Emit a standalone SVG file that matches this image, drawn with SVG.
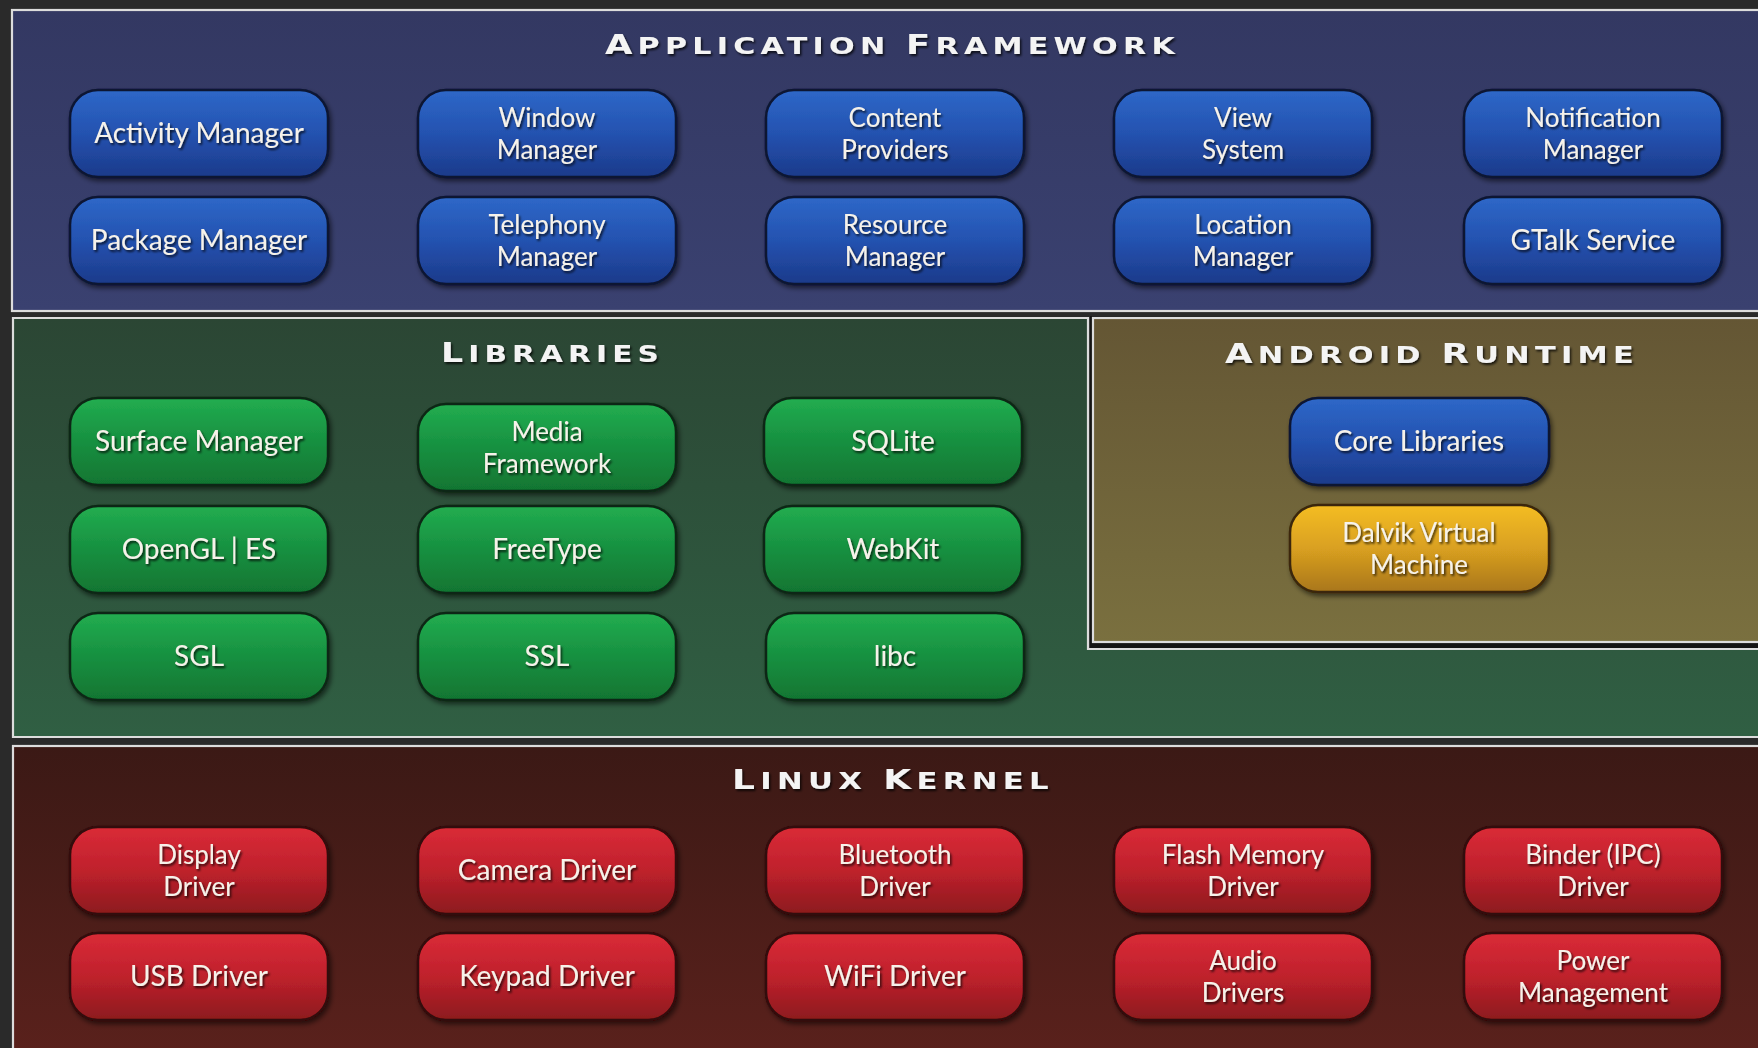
<svg xmlns="http://www.w3.org/2000/svg" width="1758" height="1048" viewBox="0 0 1758 1048">
<defs>
<linearGradient id="gApp" x1="0" y1="0" x2="0" y2="1"><stop offset="0" stop-color="#333862"/><stop offset="1" stop-color="#3a4170"/></linearGradient>
<linearGradient id="gLib" x1="0" y1="0" x2="0" y2="1"><stop offset="0" stop-color="#2b4634"/><stop offset="1" stop-color="#305f43"/></linearGradient>
<linearGradient id="gRun" x1="0" y1="0" x2="0" y2="1"><stop offset="0" stop-color="#645634"/><stop offset="1" stop-color="#7a703f"/></linearGradient>
<linearGradient id="gKer" x1="0" y1="0" x2="0" y2="1"><stop offset="0" stop-color="#3b1915"/><stop offset="1" stop-color="#5a211c"/></linearGradient>
<linearGradient id="bBlue" x1="0" y1="0" x2="0" y2="1"><stop offset="0" stop-color="#2e68c8"/><stop offset="0.5" stop-color="#2452b0"/><stop offset="1" stop-color="#1c3a8a"/></linearGradient>
<linearGradient id="bGreen" x1="0" y1="0" x2="0" y2="1"><stop offset="0" stop-color="#22ad50"/><stop offset="0.5" stop-color="#179040"/><stop offset="1" stop-color="#117532"/></linearGradient>
<linearGradient id="bRed" x1="0" y1="0" x2="0" y2="1"><stop offset="0" stop-color="#da2b37"/><stop offset="0.5" stop-color="#bf212c"/><stop offset="1" stop-color="#8c1a1e"/></linearGradient>
<linearGradient id="bGold" x1="0" y1="0" x2="0" y2="1"><stop offset="0" stop-color="#f4bd22"/><stop offset="0.5" stop-color="#d9a020"/><stop offset="1" stop-color="#a9761c"/></linearGradient>
<filter id="tsh" x="-10%" y="-20%" width="120%" height="150%"><feDropShadow dx="1.5" dy="2" stdDeviation="1.2" flood-color="#000" flood-opacity="0.75"/></filter>
<filter id="bsh" x="-5%" y="-10%" width="112%" height="130%"><feDropShadow dx="2" dy="3" stdDeviation="2.5" flood-color="#000" flood-opacity="0.55"/></filter>
</defs>
<style>
.panel{stroke:#dcdcdc;stroke-width:2.2}
.box{stroke-width:2.5;filter:url(#bsh)}
.blue{fill:url(#bBlue);stroke:#0b1533}
.green{fill:url(#bGreen);stroke:#0c2814}
.red{fill:url(#bRed);stroke:#330909}
.gold{fill:url(#bGold);stroke:#3a2808}
.lbl{font-family:Lato,"Open Sans","DejaVu Sans",sans-serif;font-size:28px;fill:#f6f2ea;text-anchor:middle;filter:url(#tsh)}
.two{font-size:26px}
.ttl{font-family:"DejaVu Sans","Liberation Sans",sans-serif;font-weight:bold;fill:#f4f4f4;letter-spacing:4px;filter:url(#tsh)}
.big{font-size:27px}
.sm{font-size:23px}
</style>
<rect x="0" y="0" width="1758" height="1048" fill="#2a2a2a"/>
<g id="panels">
<rect class="panel" x="12" y="10" width="1770" height="301" fill="url(#gApp)"/>
<path class="panel" d="M13,318 H1088 V649 H1780 V737 H13 Z" fill="url(#gLib)"/>
<rect x="1090" y="316" width="690" height="332" fill="#141414"/>
<rect class="panel" x="1093" y="318" width="690" height="324" fill="url(#gRun)"/>
<rect class="panel" x="13" y="746" width="1770" height="310" fill="url(#gKer)"/>
</g>
<g id="titles">
<text class="ttl" x="605" y="54" textLength="575" lengthAdjust="spacingAndGlyphs"><tspan class="big">A</tspan><tspan class="sm">PPLICATION </tspan><tspan class="big">F</tspan><tspan class="sm">RAMEWORK</tspan></text>
<text class="ttl" x="441" y="362" textLength="223" lengthAdjust="spacingAndGlyphs"><tspan class="big">L</tspan><tspan class="sm">IBRARIES</tspan></text>
<text class="ttl" x="1225" y="363" textLength="414" lengthAdjust="spacingAndGlyphs"><tspan class="big">A</tspan><tspan class="sm">NDROID </tspan><tspan class="big">R</tspan><tspan class="sm">UNTIME</tspan></text>
<text class="ttl" x="732" y="789" textLength="322" lengthAdjust="spacingAndGlyphs"><tspan class="big">L</tspan><tspan class="sm">INUX </tspan><tspan class="big">K</tspan><tspan class="sm">ERNEL</tspan></text>
</g>
<g id="connectors"/>
<!-- Application Framework -->
<g id="activity-manager"><rect class="box blue" x="70" y="90" width="258" height="87" rx="28"/><text class="lbl" x="199" y="143">Activity Manager</text></g>
<g id="window-manager"><rect class="box blue" x="418" y="90" width="258" height="87" rx="28"/><text class="lbl two"><tspan x="547" y="127">Window</tspan><tspan x="547" y="159">Manager</tspan></text></g>
<g id="content-providers"><rect class="box blue" x="766" y="90" width="258" height="87" rx="28"/><text class="lbl two"><tspan x="895" y="127">Content</tspan><tspan x="895" y="159">Providers</tspan></text></g>
<g id="view-system"><rect class="box blue" x="1114" y="90" width="258" height="87" rx="28"/><text class="lbl two"><tspan x="1243" y="127">View</tspan><tspan x="1243" y="159">System</tspan></text></g>
<g id="notification-manager"><rect class="box blue" x="1464" y="90" width="258" height="87" rx="28"/><text class="lbl two"><tspan x="1593" y="127">Notification</tspan><tspan x="1593" y="159">Manager</tspan></text></g>
<g id="package-manager"><rect class="box blue" x="70" y="197" width="258" height="87" rx="28"/><text class="lbl" x="199" y="250">Package Manager</text></g>
<g id="telephony-manager"><rect class="box blue" x="418" y="197" width="258" height="87" rx="28"/><text class="lbl two"><tspan x="547" y="234">Telephony</tspan><tspan x="547" y="266">Manager</tspan></text></g>
<g id="resource-manager"><rect class="box blue" x="766" y="197" width="258" height="87" rx="28"/><text class="lbl two"><tspan x="895" y="234">Resource</tspan><tspan x="895" y="266">Manager</tspan></text></g>
<g id="location-manager"><rect class="box blue" x="1114" y="197" width="258" height="87" rx="28"/><text class="lbl two"><tspan x="1243" y="234">Location</tspan><tspan x="1243" y="266">Manager</tspan></text></g>
<g id="gtalk-service"><rect class="box blue" x="1464" y="197" width="258" height="87" rx="28"/><text class="lbl" x="1593" y="250">GTalk Service</text></g>
<!-- Libraries -->
<g id="surface-manager"><rect class="box green" x="70" y="398" width="258" height="87" rx="28"/><text class="lbl" x="199" y="451">Surface Manager</text></g>
<g id="media-framework"><rect class="box green" x="418" y="404" width="258" height="87" rx="28"/><text class="lbl two"><tspan x="547" y="441">Media</tspan><tspan x="547" y="473">Framework</tspan></text></g>
<g id="sqlite"><rect class="box green" x="764" y="398" width="258" height="87" rx="28"/><text class="lbl" x="893" y="451">SQLite</text></g>
<g id="opengl-es"><rect class="box green" x="70" y="506" width="258" height="87" rx="28"/><text class="lbl" x="199" y="559">OpenGL | ES</text></g>
<g id="freetype"><rect class="box green" x="418" y="506" width="258" height="87" rx="28"/><text class="lbl" x="547" y="559">FreeType</text></g>
<g id="webkit"><rect class="box green" x="764" y="506" width="258" height="87" rx="28"/><text class="lbl" x="893" y="559">WebKit</text></g>
<g id="sgl"><rect class="box green" x="70" y="613" width="258" height="87" rx="28"/><text class="lbl" x="199" y="666">SGL</text></g>
<g id="ssl"><rect class="box green" x="418" y="613" width="258" height="87" rx="28"/><text class="lbl" x="547" y="666">SSL</text></g>
<g id="libc"><rect class="box green" x="766" y="613" width="258" height="87" rx="28"/><text class="lbl" x="895" y="666">libc</text></g>
<!-- Android Runtime -->
<g id="core-libraries"><rect class="box blue" x="1290" y="398" width="259" height="87" rx="28"/><text class="lbl" x="1419" y="451">Core Libraries</text></g>
<g id="dalvik-vm"><rect class="box gold" x="1290" y="505" width="259" height="87" rx="28"/><text class="lbl two"><tspan x="1419" y="542">Dalvik Virtual</tspan><tspan x="1419" y="574">Machine</tspan></text></g>
<!-- Linux Kernel -->
<g id="display-driver"><rect class="box red" x="70" y="827" width="258" height="87" rx="28"/><text class="lbl two"><tspan x="199" y="864">Display</tspan><tspan x="199" y="896">Driver</tspan></text></g>
<g id="camera-driver"><rect class="box red" x="418" y="827" width="258" height="87" rx="28"/><text class="lbl" x="547" y="880">Camera Driver</text></g>
<g id="bluetooth-driver"><rect class="box red" x="766" y="827" width="258" height="87" rx="28"/><text class="lbl two"><tspan x="895" y="864">Bluetooth</tspan><tspan x="895" y="896">Driver</tspan></text></g>
<g id="flash-memory-driver"><rect class="box red" x="1114" y="827" width="258" height="87" rx="28"/><text class="lbl two"><tspan x="1243" y="864">Flash Memory</tspan><tspan x="1243" y="896">Driver</tspan></text></g>
<g id="binder-driver"><rect class="box red" x="1464" y="827" width="258" height="87" rx="28"/><text class="lbl two"><tspan x="1593" y="864">Binder (IPC)</tspan><tspan x="1593" y="896">Driver</tspan></text></g>
<g id="usb-driver"><rect class="box red" x="70" y="933" width="258" height="87" rx="28"/><text class="lbl" x="199" y="986">USB Driver</text></g>
<g id="keypad-driver"><rect class="box red" x="418" y="933" width="258" height="87" rx="28"/><text class="lbl" x="547" y="986">Keypad Driver</text></g>
<g id="wifi-driver"><rect class="box red" x="766" y="933" width="258" height="87" rx="28"/><text class="lbl" x="895" y="986">WiFi Driver</text></g>
<g id="audio-drivers"><rect class="box red" x="1114" y="933" width="258" height="87" rx="28"/><text class="lbl two"><tspan x="1243" y="970">Audio</tspan><tspan x="1243" y="1002">Drivers</tspan></text></g>
<g id="power-management"><rect class="box red" x="1464" y="933" width="258" height="87" rx="28"/><text class="lbl two"><tspan x="1593" y="970">Power</tspan><tspan x="1593" y="1002">Management</tspan></text></g>
</svg>
